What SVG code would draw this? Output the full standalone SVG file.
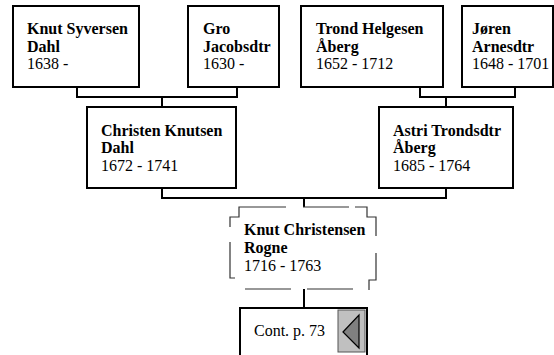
<svg xmlns="http://www.w3.org/2000/svg" width="554" height="355" viewBox="0 0 554 355">
<style>
.box{fill:#fff;stroke:#000;stroke-width:2}
.c{fill:none;stroke:#000;stroke-width:2}
.n{font-family:"Liberation Serif",serif;font-size:16px;font-weight:bold;fill:#000}
.d{font-family:"Liberation Serif",serif;font-size:16px;fill:#000}
</style>
<rect width="554" height="355" fill="#fff"/>
<g id="connectors" class="c">
<path d="M77,87 V97 H237 V87"/>
<path d="M162,97 V107"/>
<path d="M420,87 V97 H515 V87"/>
<path d="M446,97 V107"/>
<path d="M162,188 V198 H446 V188"/>
<path d="M304,198 V207"/>
<path d="M304,289 V308"/>
</g>
<g id="n1">
<rect class="box" x="13" y="6" width="126" height="81"/>
<text class="n" x="27" y="34">Knut Syversen</text>
<text class="n" x="27" y="52">Dahl</text>
<text class="d" x="27" y="69">1638 -</text>
</g>
<g id="n2">
<rect class="box" x="188" y="6" width="91" height="81"/>
<text class="n" x="203" y="34">Gro</text>
<text class="n" x="203" y="52">Jacobsdtr</text>
<text class="d" x="203" y="69">1630 -</text>
</g>
<g id="n3">
<rect class="box" x="301" y="6" width="142" height="81"/>
<text class="n" x="316" y="34">Trond Helgesen</text>
<text class="n" x="316" y="52">Åberg</text>
<text class="d" x="316" y="69">1652 - 1712</text>
</g>
<g id="n4">
<rect class="box" x="462" y="6" width="91" height="81"/>
<text class="n" x="472" y="34">Jøren</text>
<text class="n" x="472" y="52">Arnesdtr</text>
<text class="d" x="472" y="69">1648 - 1701</text>
</g>
<g id="n5">
<rect class="box" x="87" y="107" width="149" height="81"/>
<text class="n" x="101" y="136">Christen Knutsen</text>
<text class="n" x="101" y="153">Dahl</text>
<text class="d" x="101" y="171">1672 - 1741</text>
</g>
<g id="n6">
<rect class="box" x="379" y="107" width="134" height="81"/>
<text class="n" x="393" y="136">Astri Trondsdtr</text>
<text class="n" x="393" y="153">Åberg</text>
<text class="d" x="393" y="171">1685 - 1764</text>
</g>
<g id="n7">
<path fill="none" stroke="#333" stroke-width="1.2" d="M230,227 V217 H239 V207 H286 M303,207 H349 M355,207 H367 V217 H376 V236 M376,253 V280 H369 V290 M353,289 H307 M291,289 H245 M235,278 H230 V242"/>
<text class="n" x="244" y="235">Knut Christensen</text>
<text class="n" x="244" y="253">Rogne</text>
<text class="d" x="244" y="271">1716 - 1763</text>
</g>
<g id="n8">
<path class="c" d="M240,356 V308 H367 V356"/>
<text class="d" x="254" y="336">Cont. p. 73</text>
<rect x="338" y="310" width="27" height="42" fill="#c0c0c0" stroke="#555" stroke-width="1"/>
<path d="M343,332 L359,315 V348 Z" fill="#808080" stroke="#000" stroke-width="1.2"/>
</g>
</svg>
